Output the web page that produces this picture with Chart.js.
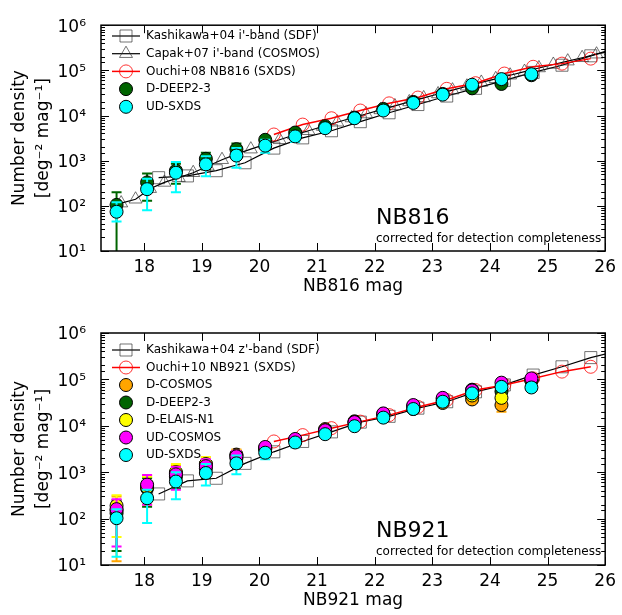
<!DOCTYPE html>
<html>
<head>
<meta charset="utf-8">
<script src="https://cdn.jsdelivr.net/npm/chart.js@4.4.1/dist/chart.umd.min.js"></script>
<style>
  html, body { margin: 0; padding: 0; background: #fff; }
  #wrap { position: relative; width: 622px; height: 615px; }
  canvas { position: absolute; left: 0; }
  #top { top: 0; }
  #bottom { top: 300px; }
</style>
</head>
<body>
<div id="wrap">
  <canvas id="top" width="622" height="300"></canvas>
  <canvas id="bottom" width="622" height="315"></canvas>
</div>
<script>
// axis ticks
const xTickValues = [18, 19, 20, 21, 22, 23, 24, 25, 26];
const yMin = 10, yMax = 1e6;

// HSC magnitude bins (both panels)
const hscMags = [17.52, 18.05, 18.55, 19.07, 19.6, 20.1, 20.62, 21.14, 21.65, 22.15, 22.67, 23.18, 23.69, 24.2, 24.72];

// ---- NB816 panel ----
const kashiIMags = [18.25, 18.75, 19.25, 19.75, 20.25, 20.75, 21.25, 21.75, 22.25, 22.75, 23.25, 23.75, 24.25, 24.75, 25.25, 25.75, 26.25];
const kashiIVals = [420, 460, 600, 900, 1900, 3200, 4600, 7300, 11500, 17500, 27000, 40000, 60000, 90000, 130000, 210000, 330000];

const capakMags = [17.6, 17.85, 18.1, 18.35, 18.6, 18.85, 19.1, 19.35, 19.6, 19.85, 20.1, 20.35, 20.6, 20.85, 21.1, 21.35, 21.6, 21.85,
                   22.1, 22.35, 22.6, 22.85, 23.1, 23.35, 23.6, 23.85, 24.1, 24.35, 24.6, 24.85, 25.1, 25.35, 25.6, 25.85, 26.1];
const capakVals = [115, 140, 240, 330, 420, 540, 750, 1050, 1400, 1800, 2300, 2900, 3700, 4600, 5700, 7100, 8800, 10800,
                   13300, 16300, 20000, 24500, 30000, 36500, 44500, 54000, 65000, 78000, 94000, 113000, 135000, 160000, 190000, 228000, 270000];

const ouchi08Mags = [20.25, 20.75, 21.25, 21.75, 22.25, 22.75, 23.25, 23.75, 24.25, 24.75, 25.25, 25.75];
const ouchi08Vals = [3800, 6300, 8700, 12900, 18600, 25000, 39000, 52000, 85000, 120000, 141000, 182000];

const deep816Vals = [105, 330, 600, 1100, 1800, 2900, 4200, 5800, 9000, 14000, 20000, 30000, 40000, 50000, 78000];
const deep816Lo   = [5, 130, 310, 650, 1200, 2300, 3500, 5000, 8000, 12500, 18000, 27000, 36500, 45500, 70000];
const deep816Hi   = [200, 520, 850, 1500, 2400, 3500, 5000, 6700, 10000, 15500, 22000, 33000, 44000, 55000, 86000];

const sxds816Vals = [74, 234, 540, 830, 1300, 2150, 3450, 5250, 8700, 12900, 19000, 29000, 48000, 64000, 82000];
const sxds816Lo   = [45, 80, 200, 450, 700, 1500, 2600, 4300, 7500, 11500, 17000, 26500, 44000, 59000, 76000];
const sxds816Hi   = [120, 400, 930, 1250, 1900, 2900, 4300, 6200, 10000, 14300, 21000, 31500, 52000, 69000, 88000];

// ---- NB921 panel ----
const kashiZMags = [18.25, 18.75, 19.25, 19.75, 20.25, 20.75, 21.25, 21.75, 22.25, 22.75, 23.25, 23.75, 24.25, 24.75, 25.25, 25.75, 26.25];
const kashiZVals = [340, 650, 740, 1550, 2750, 4600, 7400, 12000, 16000, 24000, 33000, 54000, 76000, 124000, 187000, 295000, 420000];

const ouchi10Mags = [20.25, 20.75, 21.25, 21.75, 22.25, 22.75, 23.25, 23.75, 24.25, 24.75, 25.25, 25.75];
const ouchi10Vals = [4600, 6300, 8900, 12300, 17000, 25500, 36000, 59000, 76000, 105000, 147000, 187000];

const dcosVals = [150, 500, 950, 1500, 2400, 3300, 5000, 8500, 12500, 18000, 27000, 31000, 37000, 28000, 95000];
const dcosLo   = [12, 200, 550, 950, 1750, 2700, 4300, 7600, 11500, 16800, 25000, 29000, 34000, 20000, 86000];
const dcosHi   = [300, 850, 1400, 2100, 3100, 4000, 5800, 9400, 13600, 19300, 29000, 33000, 40000, 33000, 104000];

const deep921Vals = [130, 450, 800, 1200, 2000, 3100, 4800, 7600, 11000, 17000, 23000, 38000, 60000, 55000, 95000];
const deep921Lo   = [20, 180, 450, 750, 1450, 2500, 4100, 6800, 10000, 15800, 21500, 35500, 56000, 50000, 85000];
const deep921Hi   = [250, 750, 1200, 1750, 2700, 3800, 5600, 8500, 12000, 18300, 24500, 40500, 64000, 60000, 105000];

const elaisVals = [190, 480, 1000, 1500, 2300, 3300, 5000, 8000, 12000, 18000, 26000, 35000, 45000, 40000, 95000];
const elaisLo   = [40, 200, 550, 900, 1650, 2700, 4300, 7100, 11000, 16800, 24500, 33000, 42000, 35000, 85000];
const elaisHi   = [320, 800, 1500, 2100, 3000, 4000, 5800, 9000, 13000, 19300, 27500, 37000, 48000, 45000, 105000];

const udcosVals = [160, 540, 900, 1350, 2200, 3500, 5200, 8000, 12000, 18500, 28000, 40000, 58000, 85000, 105000];
const udcosLo   = [25, 200, 420, 800, 1500, 2700, 4400, 7200, 11000, 17300, 26500, 38000, 55000, 80000, 98000];
const udcosHi   = [260, 870, 1300, 1900, 2900, 4300, 6000, 8800, 13000, 19700, 29500, 42000, 61000, 90000, 112000];

const sxds921Vals = [102, 275, 630, 960, 1550, 2630, 4370, 6600, 9800, 15000, 23000, 33000, 50000, 69000, 67000];
const sxds921Lo   = [15, 80, 260, 520, 900, 1900, 3400, 5800, 9000, 14000, 21700, 31500, 47500, 65500, 63000];
const sxds921Hi   = [160, 420, 1000, 1500, 2300, 3300, 5200, 7400, 10600, 16000, 24300, 34500, 52500, 72500, 71000];

const FONT = "'DejaVu Sans', sans-serif";
Chart.defaults.font.family = FONT;
Chart.defaults.color = '#000';

const supMap = { '0': '⁰', '1': '¹', '2': '²', '3': '³', '4': '⁴', '5': '⁵', '6': '⁶', '7': '⁷', '8': '⁸', '9': '⁹', '-': '⁻' };
const sup = s => String(s).split('').map(c => supMap[c]).join('');

function pts(mags, vals) {
    return mags.map((x, i) => ({ x: x, y: vals[i] }));
}

function lineSet(label, mags, vals, style, order) {
    return Object.assign({
        label: label,
        data: pts(mags, vals),
        showLine: true,
        tension: 0,
        pointBorderWidth: 1,
        pointBackgroundColor: 'rgba(0,0,0,0)',
        order: order
    }, style);
}

function hscSet(label, color, vals, lo, hi, order) {
    return {
        label: label,
        data: pts(hscMags, vals),
        errLo: lo,
        errHi: hi,
        errColor: color,
        showLine: false,
        pointStyle: 'circle',
        pointRadius: 6.5,
        pointBackgroundColor: color,
        pointBorderColor: '#000',
        pointBorderWidth: 1,
        order: order
    };
}

const kashiStyle = { borderColor: '#000', borderWidth: 1.2, pointStyle: 'rect', pointRadius: 8.5, pointBorderColor: 'rgba(40,40,40,0.65)' };
const capakStyle = { borderColor: '#000', borderWidth: 1.2, pointStyle: 'triangle', pointRadius: 7.5, pointBorderColor: 'rgba(40,40,40,0.65)' };
const ouchiStyle = { borderColor: '#ff0000', borderWidth: 1.5, pointStyle: 'circle', pointRadius: 6.5, pointBorderColor: 'rgba(255,0,0,0.8)' };

function panelPlugin(panel) {
    return {
        id: 'panel',
        beforeDatasetDraw(chart, args) {
            const ds = chart.data.datasets[args.index];
            if (!ds.errLo) return;
            const ctx = chart.ctx, xs = chart.scales.x, ys = chart.scales.y, a = chart.chartArea;
            ctx.save();
            ctx.beginPath();
            ctx.rect(a.left, a.top, a.right - a.left, a.bottom - a.top);
            ctx.clip();
            ctx.strokeStyle = ds.errColor;
            ctx.lineWidth = 2;
            ds.data.forEach((p, i) => {
                const px = xs.getPixelForValue(p.x);
                const y1 = ys.getPixelForValue(ds.errLo[i]);
                const y2 = ys.getPixelForValue(ds.errHi[i]);
                ctx.beginPath();
                ctx.moveTo(px, y1); ctx.lineTo(px, y2);
                ctx.moveTo(px - 5, y1); ctx.lineTo(px + 5, y1);
                ctx.moveTo(px - 5, y2); ctx.lineTo(px + 5, y2);
                ctx.stroke();
            });
            ctx.restore();
        },
        afterDatasetsDraw(chart) {
            const ctx = chart.ctx, xs = chart.scales.x, ys = chart.scales.y, a = chart.chartArea;
            ctx.save();
            ctx.strokeStyle = '#000';
            ctx.lineWidth = 1;
            ctx.beginPath();
            ys.ticks.forEach(t => {
                const lg = Math.log10(t.value);
                const major = Math.abs(lg - Math.round(lg)) < 1e-6;
                const len = major ? 8 : 4;
                const py = Math.round(ys.getPixelForValue(t.value)) + 0.5;
                ctx.moveTo(a.left, py); ctx.lineTo(a.left + len, py);
                ctx.moveTo(a.right, py); ctx.lineTo(a.right - len, py);
            });
            xs.ticks.forEach(t => {
                const px = Math.round(xs.getPixelForValue(t.value)) + 0.5;
                ctx.moveTo(px, a.bottom); ctx.lineTo(px, a.bottom - 8);
                ctx.moveTo(px, a.top); ctx.lineTo(px, a.top + 8);
            });
            ctx.stroke();
            ctx.lineWidth = 1.5;
            ctx.strokeRect(a.left, a.top, a.right - a.left, a.bottom - a.top);
            ctx.restore();
        },
        afterDraw(chart) {
            const ctx = chart.ctx, a = chart.chartArea;
            ctx.save();
            ctx.fillStyle = '#000';

            // legend
            ctx.font = '12px ' + FONT;
            ctx.textBaseline = 'middle';
            ctx.textAlign = 'left';
            chart.data.datasets.forEach((ds, i) => {
                const y = panel.legendTop + i * panel.legendStep;
                const mx = 126;
                if (ds.showLine) {
                    ctx.strokeStyle = ds.borderColor;
                    ctx.lineWidth = ds.borderWidth;
                    ctx.beginPath();
                    ctx.moveTo(112, y); ctx.lineTo(140, y);
                    ctx.stroke();
                }
                ctx.fillStyle = ds.pointBackgroundColor;
                ctx.strokeStyle = ds.pointBorderColor;
                ctx.lineWidth = ds.pointBorderWidth;
                Chart.helpers.drawPoint(ctx, {
                    pointStyle: ds.pointStyle, radius: ds.pointRadius, rotation: 0, borderWidth: ds.pointBorderWidth
                }, mx, y);
                ctx.fillStyle = '#000';
                ctx.fillText(ds.label, 146, y);
            });

            // panel tag
            ctx.font = '22px ' + FONT;
            ctx.textBaseline = 'alphabetic';
            ctx.fillText(panel.tag, 376, panel.tagY);
            ctx.font = '12px ' + FONT;
            ctx.fillText('corrected for detection completeness', 376, panel.tagY + 18);

            // x title
            ctx.font = '17px ' + FONT;
            ctx.textAlign = 'center';
            ctx.textBaseline = 'middle';
            ctx.fillText(panel.xTitle, (a.left + a.right) / 2, a.bottom + 36);

            // y title
            const cy = (a.top + a.bottom) / 2;
            ctx.translate(20, cy);
            ctx.rotate(-Math.PI / 2);
            ctx.fillText('Number density', 0, 0);
            ctx.fillText('[deg' + sup('-2') + ' mag' + sup('-1') + ']', 0, 24);
            ctx.restore();
        }
    };
}

function makeChart(canvasId, datasets, panel) {
    const ctx = document.getElementById(canvasId).getContext('2d');
    return new Chart(ctx, {
        type: 'scatter',
        data: { datasets: datasets },
        options: {
            responsive: false,
            animation: false,
            events: [],
            layout: { padding: { top: panel.padTop, right: 15, left: 0, bottom: 0 } },
            plugins: { legend: { display: false }, tooltip: { enabled: false } },
            scales: {
                x: {
                    type: 'linear',
                    min: 17.25,
                    max: 26,
                    grid: { display: false, drawTicks: false },
                    border: { display: false },
                    ticks: { padding: 6, autoSkip: false, font: { size: 17 }, maxRotation: 0 },
                    afterBuildTicks: s => { s.ticks = xTickValues.map(v => ({ value: v })); },
                    afterFit: s => { s.height = panel.xHeight; }
                },
                y: {
                    type: 'logarithmic',
                    min: yMin,
                    max: yMax,
                    grid: { display: false, drawTicks: false },
                    border: { display: false },
                    ticks: {
                        autoSkip: false,
                        padding: 15,
                        labelOffset: 2,
                        font: { size: 17 },
                        callback: v => {
                            const lg = Math.log10(v);
                            return Math.abs(lg - Math.round(lg)) < 1e-6 ? '10' + sup(Math.round(lg)) : '';
                        }
                    },
                    afterFit: s => { s.width = 101; }
                }
            }
        },
        plugins: [panelPlugin(panel)]
    });
}

makeChart('top', [
    lineSet("Kashikawa+04 i'-band (SDF)", kashiIMags, kashiIVals, kashiStyle, 5),
    lineSet("Capak+07 i'-band (COSMOS)", capakMags, capakVals, capakStyle, 4),
    lineSet('Ouchi+08 NB816 (SXDS)', ouchi08Mags, ouchi08Vals, ouchiStyle, 3),
    hscSet('D-DEEP2-3', '#006400', deep816Vals, deep816Lo, deep816Hi, 2),
    hscSet('UD-SXDS', '#00ffff', sxds816Vals, sxds816Lo, sxds816Hi, 1)
], { padTop: 20, xHeight: 49, legendTop: 36, legendStep: 17.7, tag: 'NB816', tagY: 224, xTitle: 'NB816 mag' });

makeChart('bottom', [
    lineSet("Kashikawa+04 z'-band (SDF)", kashiZMags, kashiZVals, kashiStyle, 7),
    lineSet('Ouchi+10 NB921 (SXDS)', ouchi10Mags, ouchi10Vals, ouchiStyle, 6),
    hscSet('D-COSMOS', '#ffa500', dcosVals, dcosLo, dcosHi, 5),
    hscSet('D-DEEP2-3', '#006400', deep921Vals, deep921Lo, deep921Hi, 4),
    hscSet('D-ELAIS-N1', '#ffff00', elaisVals, elaisLo, elaisHi, 3),
    hscSet('UD-COSMOS', '#ff00ff', udcosVals, udcosLo, udcosHi, 2),
    hscSet('UD-SXDS', '#00ffff', sxds921Vals, sxds921Lo, sxds921Hi, 1)
], { padTop: 33, xHeight: 50, legendTop: 50, legendStep: 17.5, tag: 'NB921', tagY: 237, xTitle: 'NB921 mag' });
</script>
</body>
</html>
